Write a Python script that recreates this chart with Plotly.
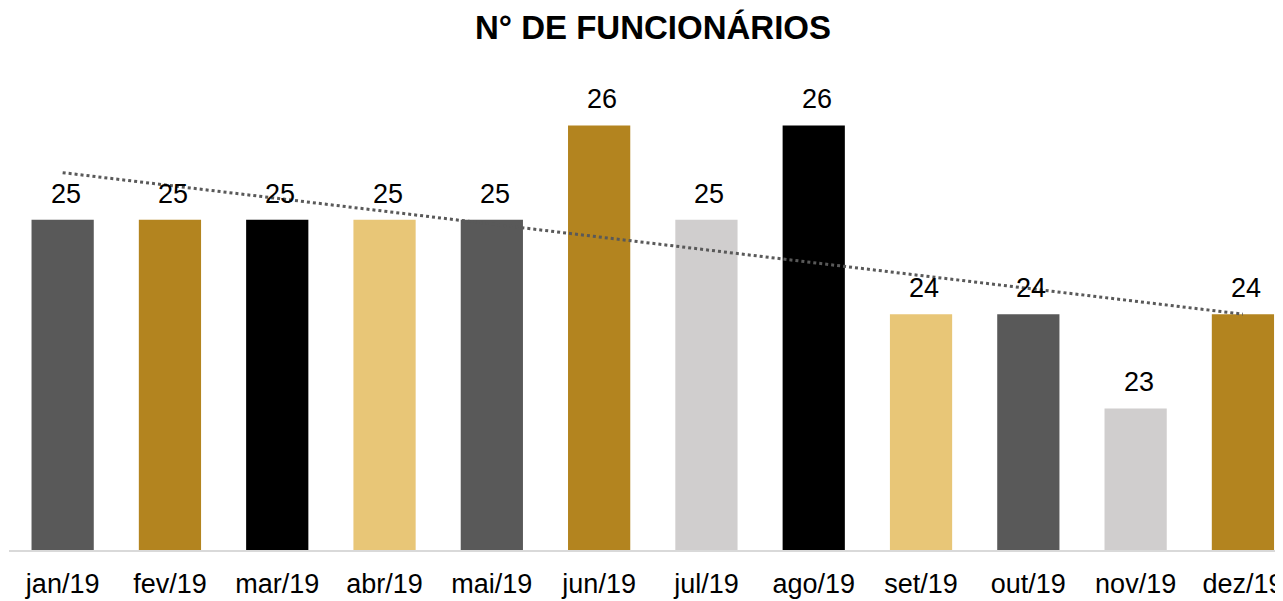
import numpy as np
import plotly.graph_objects as go

months = ["jan/19", "fev/19", "mar/19", "abr/19", "mai/19", "jun/19",
          "jul/19", "ago/19", "set/19", "out/19", "nov/19", "dez/19"]
employees = [25, 25, 25, 25, 25, 26, 25, 26, 24, 24, 23, 24]
bar_colors = ["#595959", "#B3841F", "#000000", "#E8C677", "#595959", "#B3841F",
              "#D0CECE", "#000000", "#E8C677", "#595959", "#D0CECE", "#B3841F"]
title_text = "N° DE FUNCIONÁRIOS"

# linear trendline from the data
idx = np.arange(1, len(employees) + 1)
slope, intercept = np.polyfit(idx, employees, 1)
trend = slope * idx + intercept

font = "Liberation Sans, Arial, sans-serif"

fig = go.Figure()
fig.add_trace(go.Bar(
    x=months, y=employees, marker=dict(color=bar_colors, line=dict(width=0)),
    hoverinfo="x+y", showlegend=False,
))
fig.add_trace(go.Scatter(
    x=months, y=trend, mode="lines",
    line=dict(color="#595959", width=3, dash="dot"),
    hoverinfo="skip", showlegend=False,
))
for m, v in zip(months, employees):
    fig.add_annotation(x=m, y=v, text=str(v), showarrow=False,
                       yanchor="bottom", yshift=9, xshift=3,
                       font=dict(family=font, size=27, color="#000000"))

fig.update_layout(
    width=1283, height=601,
    margin=dict(l=1, r=0, t=52, b=59),
    paper_bgcolor="white", plot_bgcolor="white",
    bargap=0.42,
    title=dict(text="<b>" + title_text + "</b>", x=0.5027, xanchor="center",
               y=0.967, yanchor="middle",
               font=dict(family=font, size=33, color="#000000")),
    xaxis=dict(type="category", range=[-0.5, 11.448],
               showline=True, linecolor="#D9D9D9", linewidth=2,
               showgrid=False, zeroline=False, ticks="",
               ticklabelstandoff=9,
               tickfont=dict(family=font, size=27, color="#000000")),
    yaxis=dict(range=[21.5, 26.694], visible=False, showgrid=False, zeroline=False),
)

fig.write_html("out.html")
